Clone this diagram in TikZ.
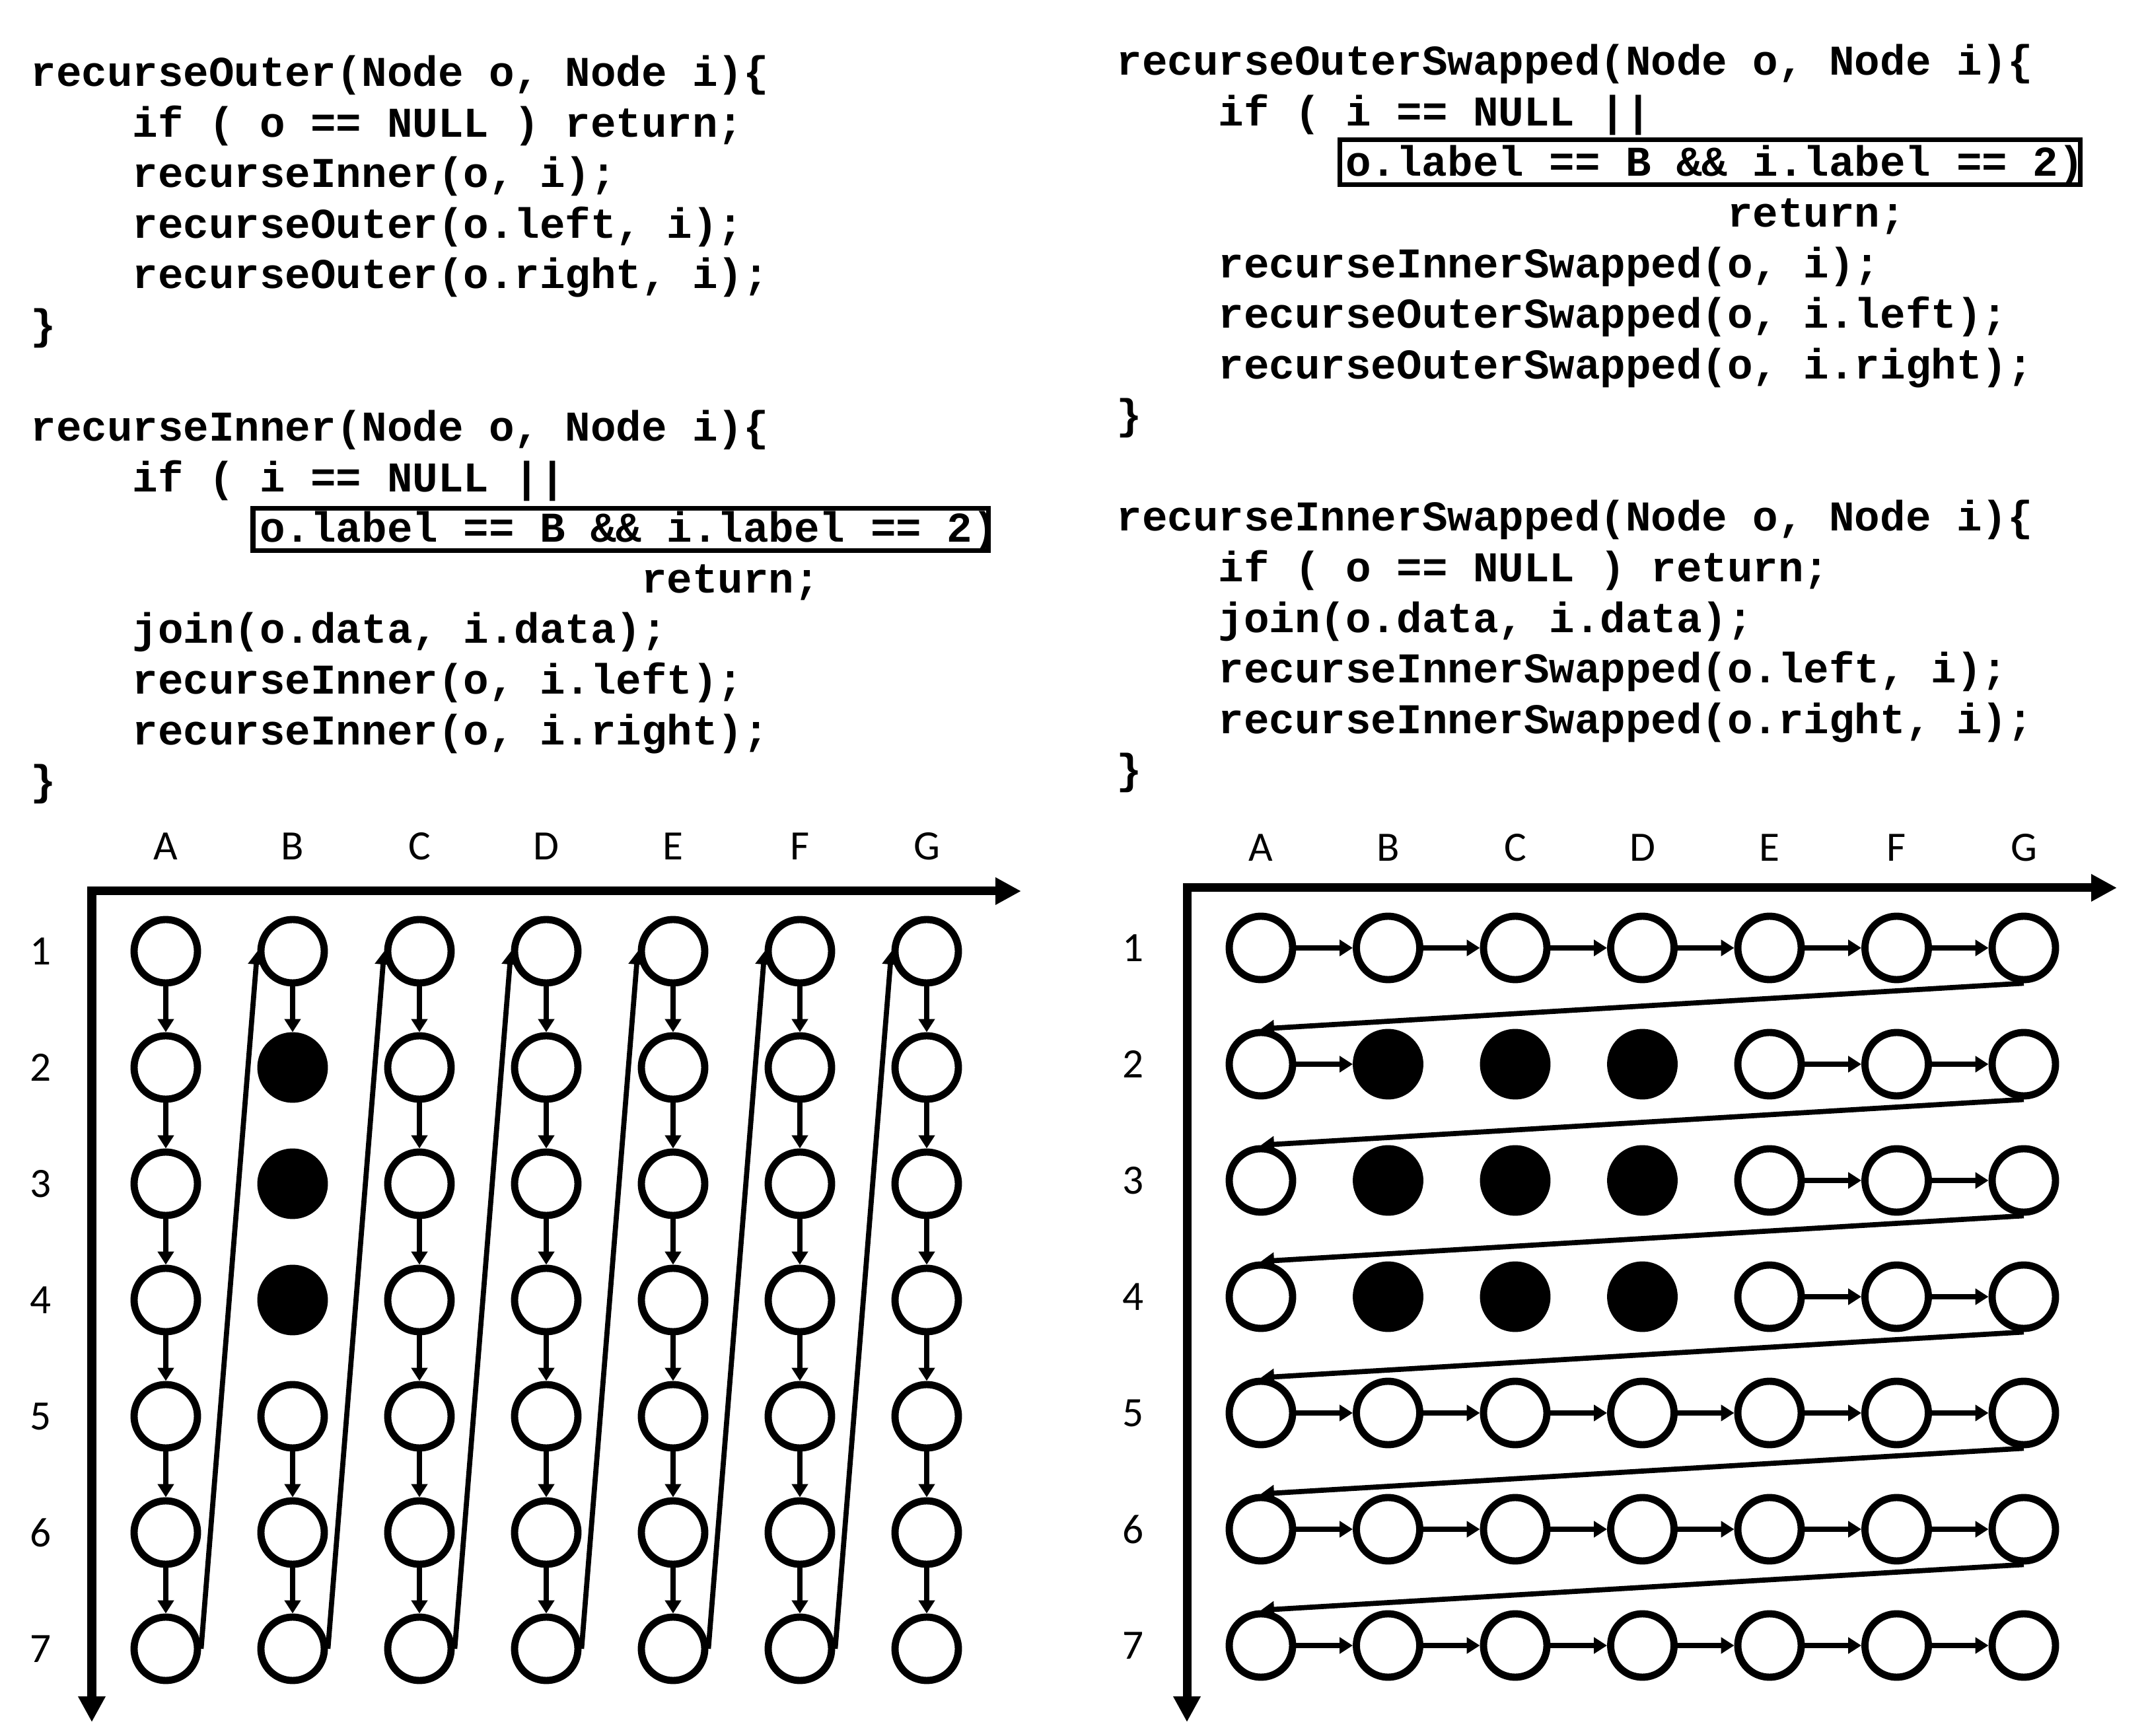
\documentclass[tikz,border=0pt]{standalone}
\usepackage{fontspec}
\setmainfont{Carlito}
\setmonofont{Liberation Mono}
\usetikzlibrary{arrows.meta}

% width of one character of the code font
\newlength{\chw}
\setlength{\chw}{10.96pt}
\newcommand{\ind}[1]{\hspace*{#1\chw}}

\tikzset{
    code/.style={font=\ttfamily\bfseries\fontsize{18.27}{21.8}\selectfont, align=left, anchor=base west, inner sep=0pt},
    lbl/.style={font=\fontsize{18}{21.6}\selectfont, inner sep=0pt},
    vtx/.style={circle, draw, line width=3.1pt, minimum size=0.96cm, inner sep=0pt, fill=white},
    full/.style={vtx, fill=black},
    link/.style={line width=2.2pt, -{Triangle[length=0.2cm, width=0.24cm]}},
    axis/.style={line width=3.7pt, {Triangle[length=0.39cm, width=0.39cm]}-{Triangle[length=0.39cm, width=0.39cm]}},
    hilite/.style={line width=2pt}
}

\begin{document}
\begin{tikzpicture}[x=1cm, y=1cm]

    % Fix the page size
    \useasboundingbox (0,0) rectangle (32.49,-26.28);

    % Code of the left traversal (placed by the baseline of the last line)
    \node[code] (outer) at (0.46,-5.135) {recurseOuter(Node o, Node i)\{\\
        \ind{4}if ( o == NULL ) return;\\
        \ind{4}recurseInner(o, i);\\
        \ind{4}recurseOuter(o.left, i);\\
        \ind{4}recurseOuter(o.right, i);\\
        \}};
    \node[code] (inner) at (0.46,-12.038) {recurseInner(Node o, Node i)\{\\
        \ind{4}if ( i == NULL ||\\
        \ind{9}o.label == B \&\& i.label == 2)\\
        \ind{24}return;\\
        \ind{4}join(o.data, i.data);\\
        \ind{4}recurseInner(o, i.left);\\
        \ind{4}recurseInner(o, i.right);\\
        \}};

    % Code of the right traversal
    \node[code] (outerSw) at (16.90,-6.50) {recurseOuterSwapped(Node o, Node i)\{\\
        \ind{4}if ( i == NULL ||\\
        \ind{9}o.label == B \&\& i.label == 2)\\
        \ind{24}return;\\
        \ind{4}recurseInnerSwapped(o, i);\\
        \ind{4}recurseOuterSwapped(o, i.left);\\
        \ind{4}recurseOuterSwapped(o, i.right);\\
        \}};
    \node[code] (innerSw) at (16.90,-11.87) {recurseInnerSwapped(Node o, Node i)\{\\
        \ind{4}if ( o == NULL ) return;\\
        \ind{4}join(o.data, i.data);\\
        \ind{4}recurseInnerSwapped(o.left, i);\\
        \ind{4}recurseInnerSwapped(o.right, i);\\
        \}};

    % Boxes round the pruning test
    \draw[hilite] (3.83,-7.695) rectangle (14.965,-8.335);
    \draw[hilite] (20.28,-2.115) rectangle (31.49,-2.795);

    % Axes of both grids
    \coordinate (LO) at (1.39,-13.49);
    \coordinate (LX) at (15.46,-13.49);
    \coordinate (LY) at (1.39,-26.07);
    \draw[axis] (LY) -- (LO) -- (LX);
    \coordinate (RO) at (17.97,-13.44);
    \coordinate (RX) at (32.05,-13.44);
    \coordinate (RY) at (17.97,-26.07);
    \draw[axis] (RY) -- (RO) -- (RX);

    % Column and row labels
    \foreach \c/\name in {1/A,2/B,3/C,4/D,5/E,6/F,7/G}{
        \node[lbl] (LC-\name) at ({2.51+1.92*(\c-1)},-12.81) {\name};
        \node[lbl] (RC-\name) at ({19.09+1.925*(\c-1)},-12.83) {\name};
    }
    \foreach \r in {1,...,7}{
        \node[lbl] (LR-\r) at (0.62,{-14.40-1.76*(\r-1)}) {\r};
        \node[lbl] (RR-\r) at (17.16,{-14.35-1.76*(\r-1)}) {\r};
    }

    % Left grid: pruned nodes are filled
    \foreach \c in {1,...,7}{
        \foreach \r in {1,...,7}{
            \pgfmathtruncatemacro{\isfull}{(\c==2)&&(\r>1)&&(\r<5)}
            \ifnum\isfull=1 \def\sty{full}\else\def\sty{vtx}\fi
            \node[\sty] (L-\c-\r) at ({2.51+1.92*(\c-1)},{-14.40-1.76*(\r-1)}) {};
        }
    }

    % Right grid: pruned nodes are filled
    \foreach \c in {1,...,7}{
        \foreach \r in {1,...,7}{
            \pgfmathtruncatemacro{\isfull}{(\c>1)&&(\c<5)&&(\r>1)&&(\r<5)}
            \ifnum\isfull=1 \def\sty{full}\else\def\sty{vtx}\fi
            \node[\sty] (R-\c-\r) at ({19.09+1.925*(\c-1)},{-14.35-1.76*(\r-1)}) {};
        }
    }

    % Left grid: steps down each column
    \foreach \c in {1,...,7}{
        \foreach \r in {1,...,6}{
            \pgfmathtruncatemacro{\skip}{(\c==2)&&(\r>1)&&(\r<5)}
            \pgfmathtruncatemacro{\nr}{\r+1}
            \ifnum\skip=0 \draw[link] (L-\c-\r) -- (L-\c-\nr);\fi
        }
    }
    % Left grid: jumps back to the top of the next column
    \foreach \c in {1,...,6}{
        \pgfmathtruncatemacro{\nc}{\c+1}
        \draw[link] (L-\c-7.east) -- (L-\nc-1.west);
    }

    % Right grid: steps along each row
    \foreach \r in {1,...,7}{
        \foreach \c in {1,...,6}{
            \pgfmathtruncatemacro{\skip}{((\r==2)&&(\c>1)&&(\c<5))||(((\r==3)||(\r==4))&&(\c<5))}
            \pgfmathtruncatemacro{\nc}{\c+1}
            \ifnum\skip=0 \draw[link] (R-\c-\r) -- (R-\nc-\r);\fi
        }
    }
    % Right grid: jumps back to the start of the next row
    \foreach \r in {1,...,6}{
        \pgfmathtruncatemacro{\nr}{\r+1}
        \draw[link] (R-7-\r.south) -- (R-1-\nr.north);
    }

\end{tikzpicture}
\end{document}
